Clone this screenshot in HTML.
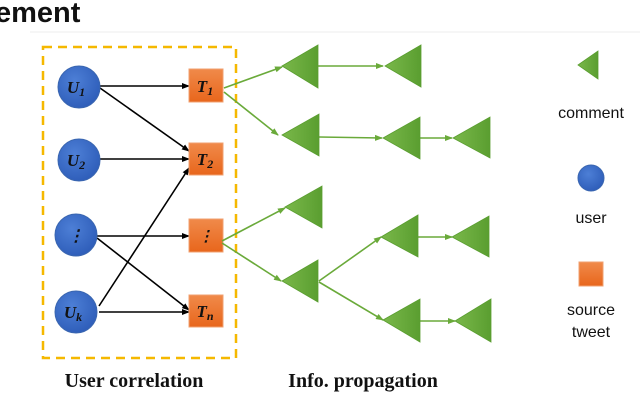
<!DOCTYPE html>
<html><head><style>
body{margin:0;background:#fff;width:640px;height:400px;overflow:hidden}
</style></head><body>
<svg width="640" height="400" viewBox="0 0 640 400" xmlns="http://www.w3.org/2000/svg">
<defs>
<marker id="ab" markerWidth="8" markerHeight="8" refX="7" refY="4" orient="auto" markerUnits="userSpaceOnUse"><path d="M0,1 L8,4 L0,7 z" fill="#000"/></marker>
<marker id="ag" markerWidth="8" markerHeight="8" refX="7" refY="4" orient="auto" markerUnits="userSpaceOnUse"><path d="M0,1 L8,4 L0,7 z" fill="#6aaa3a"/></marker>
<linearGradient id="gt" x1="0" x2="1"><stop offset="0" stop-color="#7ab84a"/><stop offset="1" stop-color="#5a9e30"/></linearGradient>
<linearGradient id="gs" x1="0" y1="0" x2="0" y2="1"><stop offset="0" stop-color="#f08a4a"/><stop offset="1" stop-color="#e8661c"/></linearGradient>
<radialGradient id="gc" cx="0.4" cy="0.35" r="0.7"><stop offset="0" stop-color="#4d7fd6"/><stop offset="1" stop-color="#2d5cb8"/></radialGradient>
</defs>
<text x="-5" y="22" font-family="Liberation Sans, sans-serif" font-weight="bold" font-size="29" fill="#111">ement</text>
<line x1="30" y1="32" x2="640" y2="32" stroke="#eee" stroke-width="1"/>
<rect x="43" y="47" width="193" height="311" fill="none" stroke="#f5b800" stroke-width="2.5" stroke-dasharray="9,6"/>
<g stroke="#000" stroke-width="1.6" marker-end="url(#ab)">
<line x1="100" y1="86" x2="189" y2="86"/>
<line x1="100" y1="88" x2="189" y2="151"/>
<line x1="100" y1="159" x2="189" y2="159"/>
<line x1="97" y1="236" x2="189" y2="236"/>
<line x1="97" y1="238" x2="189" y2="310"/>
<line x1="99" y1="312" x2="189" y2="312"/>
<line x1="99" y1="306" x2="189" y2="168"/>
</g>
<g fill="url(#gc)" stroke="#3a66b0" stroke-width="1">
<circle cx="79" cy="87" r="21"/><circle cx="79" cy="160" r="21"/>
<circle cx="76" cy="235" r="21"/><circle cx="76" cy="312" r="21"/>
</g>
<g font-family="Liberation Serif, serif" font-weight="bold" font-style="italic" fill="#111" text-anchor="middle">
<text x="76" y="93" font-size="17">U<tspan font-size="12" dy="3">1</tspan></text>
<text x="76" y="166" font-size="17">U<tspan font-size="12" dy="3">2</tspan></text>
<text x="76" y="241" font-size="16">⋮</text>
<text x="73" y="318" font-size="17">U<tspan font-size="12" dy="3">k</tspan></text>
</g>
<g fill="url(#gs)" stroke="#f0a070" stroke-width="1">
<rect x="189" y="69" width="34" height="33"/><rect x="189" y="143" width="34" height="32"/>
<rect x="189" y="219" width="34" height="33"/><rect x="189" y="295" width="34" height="32"/>
</g>
<g font-family="Liberation Serif, serif" font-weight="bold" font-style="italic" fill="#111" text-anchor="middle">
<text x="205" y="92" font-size="17">T<tspan font-size="12" dy="3">1</tspan></text>
<text x="205" y="165" font-size="17">T<tspan font-size="12" dy="3">2</tspan></text>
<text x="206" y="241" font-size="15">⋮</text>
<text x="205" y="317" font-size="17">T<tspan font-size="12" dy="3">n</tspan></text>
</g>
<g stroke="#6aaa3a" stroke-width="1.6" marker-end="url(#ag)">
<line x1="224" y1="88" x2="282" y2="67"/>
<line x1="224" y1="92" x2="278" y2="135"/>
<line x1="318" y1="66" x2="383" y2="66"/>
<line x1="319" y1="137" x2="382" y2="138"/>
<line x1="420" y1="138" x2="452" y2="138"/>
<line x1="222" y1="241" x2="285" y2="208"/>
<line x1="222" y1="243" x2="281" y2="281"/>
<line x1="319" y1="281" x2="381" y2="237"/>
<line x1="319" y1="282" x2="383" y2="320"/>
<line x1="418" y1="237" x2="452" y2="237"/>
<line x1="420" y1="321" x2="455" y2="321"/>
</g>
<g fill="url(#gt)" stroke="#5a9e30" stroke-width="0.8">
<path d="M282,66 L318,45 L318,88 z"/>
<path d="M385,66 L421,45 L421,87 z"/>
<path d="M282,135 L319,114 L319,156 z"/>
<path d="M383,138 L420,117 L420,159 z"/>
<path d="M453,138 L490,117 L490,158 z"/>
<path d="M285,207 L322,186 L322,228 z"/>
<path d="M282,281 L318,260 L318,302 z"/>
<path d="M381,237 L418,215 L418,257 z"/>
<path d="M452,237 L489,216 L489,257 z"/>
<path d="M383,320 L420,299 L420,342 z"/>
<path d="M455,321 L491,299 L491,342 z"/>
<path d="M578,65 L598,51 L598,79 z"/>
</g>
<circle cx="591" cy="178" r="13" fill="url(#gc)" stroke="#3a66b0"/>
<rect x="579" y="262" width="24" height="24" fill="url(#gs)" stroke="#f0a070"/>
<g font-family="Liberation Sans, sans-serif" font-size="16" fill="#111" text-anchor="middle">
<text x="591" y="118">comment</text>
<text x="591" y="223">user</text>
<text x="591" y="315">source</text>
<text x="591" y="337">tweet</text>
</g>
<g font-family="Liberation Serif, serif" font-weight="bold" font-size="20" fill="#111" text-anchor="middle">
<text x="134" y="387">User correlation</text>
<text x="363" y="387">Info. propagation</text>
</g>
</svg>
</body></html>
